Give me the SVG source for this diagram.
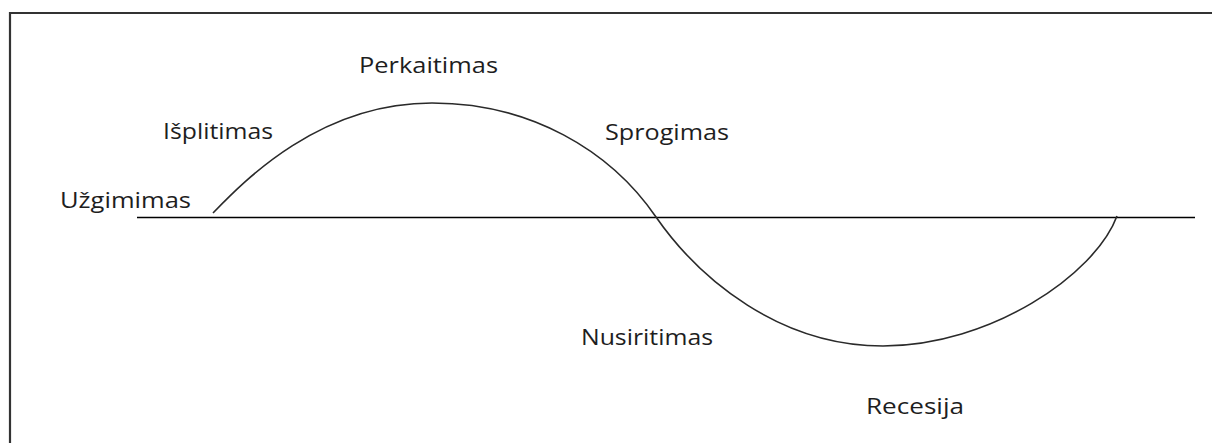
<svg xmlns="http://www.w3.org/2000/svg" width="1212" height="443" viewBox="0 0 1212 443">
  <style>
    .lbl { font-family: "Open Sans", "Liberation Sans", sans-serif; font-size: 22px; fill: #1e1e1e; }
    .axis { stroke: #000; stroke-width: 1.6; fill: none; }
    .wave { stroke: #2a2a2a; stroke-width: 1.6; fill: none; }
    .frame { stroke: #333; stroke-width: 2.2; fill: none; }
  </style>
  <rect width="1212" height="443" fill="#fff"/>
  <path id="frame" class="frame" d="M10 443 V13 H1212"/>
  <g id="connectors">
    <line id="axis" class="axis" x1="137" y1="217.5" x2="1195" y2="217.5"/>
    <path id="wave" class="wave" d="M213 213 C245 180 320 103 432 103 C530 103 610 150 656 217 C700 280 780 346 883 346 C990 346 1095 275 1117 216"/>
  </g>
  <g id="uzgimimas"><text class="lbl" x="60" y="208" textLength="131" lengthAdjust="spacingAndGlyphs">Užgimimas</text></g>
  <g id="isplitimas"><text class="lbl" x="163" y="139" textLength="110" lengthAdjust="spacingAndGlyphs">Išplitimas</text></g>
  <g id="perkaitimas"><text class="lbl" x="359" y="73" textLength="139" lengthAdjust="spacingAndGlyphs">Perkaitimas</text></g>
  <g id="sprogimas"><text class="lbl" x="605" y="140" textLength="124" lengthAdjust="spacingAndGlyphs">Sprogimas</text></g>
  <g id="nusiritimas"><text class="lbl" x="581" y="345" textLength="132" lengthAdjust="spacingAndGlyphs">Nusiritimas</text></g>
  <g id="recesija"><text class="lbl" x="866" y="414" textLength="98" lengthAdjust="spacingAndGlyphs">Recesija</text></g>
</svg>
